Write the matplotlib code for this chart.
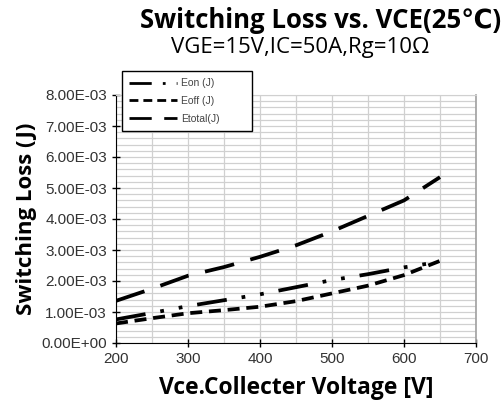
import matplotlib
matplotlib.use("Agg")
import matplotlib.pyplot as plt
from matplotlib.ticker import MultipleLocator, FuncFormatter

vce = [200, 250, 300, 350, 400, 450, 500, 550, 600, 650]
eon = [0.76e-3, 0.97e-3, 1.19e-3, 1.38e-3, 1.57e-3, 1.80e-3, 2.03e-3, 2.22e-3, 2.44e-3, 2.62e-3]
eoff = [0.63e-3, 0.80e-3, 0.96e-3, 1.06e-3, 1.17e-3, 1.35e-3, 1.60e-3, 1.85e-3, 2.19e-3, 2.65e-3]
etotal = [1.36e-3, 1.75e-3, 2.17e-3, 2.45e-3, 2.78e-3, 3.15e-3, 3.60e-3, 4.10e-3, 4.60e-3, 5.35e-3]
labels = ["Eon (J)", "Eoff (J)", "Etotal(J)"]
title = "Switching Loss vs. VCE(25\u2103)"
subtitle = "VGE=15V,IC=50A,Rg=10\u03a9"

W, H = 503, 408
fig = plt.figure(figsize=(W / 100, H / 100), dpi=100)
ax = fig.add_axes([116 / W, 1 - 343 / H, 360 / W, 248 / H])

ax.plot(vce, eon, color="black", lw=2.7, dashes=(8, 4, 1, 4, 1, 4), label=labels[0])
ax.plot(vce, eoff, color="black", lw=2.7, dashes=(3.2, 1.8), label=labels[1])
ax.plot(vce, etotal, color="black", lw=2.7, dashes=(8, 4.5), label=labels[2])

ax.set_xlim(200, 700)
ax.set_ylim(0, 8e-3)
ax.xaxis.set_major_locator(MultipleLocator(100))
ax.xaxis.set_minor_locator(MultipleLocator(50))
ax.yaxis.set_major_locator(MultipleLocator(1e-3))
ax.yaxis.set_minor_locator(MultipleLocator(0.2e-3))
ax.grid(which="both", color="#d0d0d0", lw=0.9)
ax.set_axisbelow(True)
ax.tick_params(which="minor", length=0)
ax.tick_params(which="major", direction="inout", length=6, width=1,
               labelsize=11, labelcolor="#333333", color="black")

def fmt(v, pos):
    return "%.2E" % v
ax.yaxis.set_major_formatter(FuncFormatter(fmt))
for t in ax.get_xticklabels() + ax.get_yticklabels():
    t.set_fontfamily("Liberation Sans")

ax.spines["left"].set_color("black")
ax.spines["bottom"].set_color("black")
ax.spines["top"].set_color("#d0d0d0")
ax.spines["right"].set_color("#a0a0a0")
ax.spines["right"].set_linewidth(1.2)

ax.set_xlabel("Vce.Collecter Voltage [V]", fontsize=16.5, fontweight="bold",
              family=["Open Sans", "DejaVu Sans"], labelpad=7)
ax.set_ylabel("Switching Loss (J)", fontsize=16, fontweight="bold",
              family=["Open Sans", "DejaVu Sans"], labelpad=3)

fig.text(321 / W, 1 - 21 / H, title, ha="center", va="center", fontsize=18.5,
         fontweight="bold", family=["Open Sans", "DejaVu Sans"])
fig.text(300 / W, 1 - 47 / H, subtitle, ha="center", va="center", fontsize=16,
         family=["Open Sans", "DejaVu Sans"])

leg = fig.legend(loc="upper left",
                 bbox_to_anchor=(122 / W, 1 - 130 / H, 130 / W, 59 / H),
                 mode="expand",
                 prop={"family": "Liberation Sans", "size": 7.5},
                 handlelength=4.6, handletextpad=0.4, labelspacing=0.75,
                 borderpad=0.7, borderaxespad=0, fancybox=False,
                 edgecolor="black", framealpha=1)
leg.get_frame().set_linewidth(1.0)
for t in leg.get_texts():
    t.set_color("#444444")
for l in leg.get_lines():
    l.set_linewidth(2.0)

fig.savefig("out.png", dpi=100)
